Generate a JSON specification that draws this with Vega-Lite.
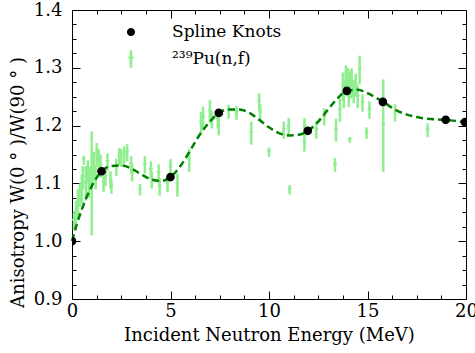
{
  "$schema": "https://vega.github.io/schema/vega-lite/v6.json",
  "width": 394,
  "height": 289,
  "autosize": {"type": "none"},
  "padding": {"left": 72, "top": 10, "right": 9, "bottom": 54},
  "background": "white",
  "config": {
    "view": {"stroke": null},
    "font": "DejaVu Serif",
    "axis": {
      "grid": false,
      "labelFont": "DejaVu Serif",
      "labelFontSize": 18,
      "labelColor": "black",
      "titleFont": "DejaVu Serif",
      "titleFontSize": 18,
      "titleFontWeight": "normal",
      "titleColor": "black",
      "domainColor": "black",
      "tickColor": "black",
      "tickWidth": 1,
      "domainWidth": 1
    }
  },
  "datasets": {
    "pts": [
      {"E": 0.1, "A": 1.035, "lo": 1.02, "hi": 1.05},
      {"E": 0.2, "A": 1.05, "lo": 1.03, "hi": 1.07},
      {"E": 0.3, "A": 1.065, "lo": 1.04, "hi": 1.09},
      {"E": 0.4, "A": 1.08, "lo": 1.06, "hi": 1.10},
      {"E": 0.5, "A": 1.09, "lo": 1.065, "hi": 1.115},
      {"E": 0.55, "A": 1.11, "lo": 1.09, "hi": 1.13},
      {"E": 0.6, "A": 1.14, "lo": 1.132, "hi": 1.148},
      {"E": 0.7, "A": 1.10, "lo": 1.07, "hi": 1.13},
      {"E": 0.8, "A": 1.12, "lo": 1.10, "hi": 1.14},
      {"E": 0.85, "A": 1.10, "lo": 1.075, "hi": 1.125},
      {"E": 0.95, "A": 1.11, "lo": 1.09, "hi": 1.13},
      {"E": 1.0, "A": 1.10, "lo": 1.01, "hi": 1.19},
      {"E": 1.1, "A": 1.13, "lo": 1.105, "hi": 1.155},
      {"E": 1.2, "A": 1.11, "lo": 1.09, "hi": 1.13},
      {"E": 1.25, "A": 1.15, "lo": 1.13, "hi": 1.17},
      {"E": 1.35, "A": 1.14, "lo": 1.12, "hi": 1.16},
      {"E": 1.45, "A": 1.13, "lo": 1.11, "hi": 1.15},
      {"E": 1.6, "A": 1.10, "lo": 1.085, "hi": 1.115},
      {"E": 1.7, "A": 1.11, "lo": 1.095, "hi": 1.125},
      {"E": 1.8, "A": 1.137, "lo": 1.122, "hi": 1.152},
      {"E": 1.95, "A": 1.106, "lo": 1.091, "hi": 1.121},
      {"E": 2.0, "A": 1.094, "lo": 1.082, "hi": 1.106},
      {"E": 2.25, "A": 1.128, "lo": 1.113, "hi": 1.143},
      {"E": 2.4, "A": 1.146, "lo": 1.131, "hi": 1.161},
      {"E": 2.5, "A": 1.144, "lo": 1.129, "hi": 1.159},
      {"E": 2.65, "A": 1.149, "lo": 1.134, "hi": 1.164},
      {"E": 2.8, "A": 1.153, "lo": 1.138, "hi": 1.168},
      {"E": 3.0, "A": 1.132, "lo": 1.117, "hi": 1.147},
      {"E": 3.05, "A": 1.118, "lo": 1.103, "hi": 1.133},
      {"E": 3.45, "A": 1.089, "lo": 1.079, "hi": 1.099},
      {"E": 3.7, "A": 1.132, "lo": 1.117, "hi": 1.147},
      {"E": 4.0, "A": 1.123, "lo": 1.108, "hi": 1.138},
      {"E": 4.05, "A": 1.106, "lo": 1.091, "hi": 1.121},
      {"E": 4.4, "A": 1.118, "lo": 1.103, "hi": 1.133},
      {"E": 4.45, "A": 1.094, "lo": 1.079, "hi": 1.109},
      {"E": 4.85, "A": 1.10, "lo": 1.085, "hi": 1.115},
      {"E": 5.0, "A": 1.127, "lo": 1.112, "hi": 1.142},
      {"E": 5.35, "A": 1.097, "lo": 1.077, "hi": 1.117},
      {"E": 5.95, "A": 1.14, "lo": 1.12, "hi": 1.16},
      {"E": 6.55, "A": 1.204, "lo": 1.184, "hi": 1.224},
      {"E": 6.65, "A": 1.213, "lo": 1.193, "hi": 1.233},
      {"E": 7.0, "A": 1.224, "lo": 1.204, "hi": 1.244},
      {"E": 7.1, "A": 1.21, "lo": 1.195, "hi": 1.225},
      {"E": 7.4, "A": 1.21, "lo": 1.195, "hi": 1.225},
      {"E": 7.45, "A": 1.198, "lo": 1.183, "hi": 1.213},
      {"E": 7.95, "A": 1.224, "lo": 1.212, "hi": 1.236},
      {"E": 8.35, "A": 1.222, "lo": 1.21, "hi": 1.234},
      {"E": 9.1, "A": 1.187, "lo": 1.167, "hi": 1.207},
      {"E": 9.5, "A": 1.241, "lo": 1.226, "hi": 1.256},
      {"E": 9.55, "A": 1.222, "lo": 1.207, "hi": 1.237},
      {"E": 10.0, "A": 1.154, "lo": 1.146, "hi": 1.162},
      {"E": 10.75, "A": 1.192, "lo": 1.177, "hi": 1.207},
      {"E": 11.0, "A": 1.198, "lo": 1.183, "hi": 1.213},
      {"E": 11.05, "A": 1.089, "lo": 1.081, "hi": 1.097},
      {"E": 11.8, "A": 1.198, "lo": 1.183, "hi": 1.213},
      {"E": 11.8, "A": 1.17, "lo": 1.155, "hi": 1.185},
      {"E": 12.4, "A": 1.192, "lo": 1.177, "hi": 1.207},
      {"E": 12.8, "A": 1.215, "lo": 1.2, "hi": 1.23},
      {"E": 13.35, "A": 1.132, "lo": 1.12, "hi": 1.144},
      {"E": 13.4, "A": 1.192, "lo": 1.172, "hi": 1.212},
      {"E": 13.6, "A": 1.227, "lo": 1.207, "hi": 1.247},
      {"E": 13.75, "A": 1.267, "lo": 1.242, "hi": 1.292},
      {"E": 13.8, "A": 1.255, "lo": 1.23, "hi": 1.28},
      {"E": 13.9, "A": 1.284, "lo": 1.264, "hi": 1.304},
      {"E": 14.0, "A": 1.275, "lo": 1.25, "hi": 1.30},
      {"E": 14.05, "A": 1.262, "lo": 1.232, "hi": 1.292},
      {"E": 14.1, "A": 1.175, "lo": 1.17, "hi": 1.18},
      {"E": 14.15, "A": 1.272, "lo": 1.247, "hi": 1.297},
      {"E": 14.2, "A": 1.274, "lo": 1.249, "hi": 1.299},
      {"E": 14.3, "A": 1.259, "lo": 1.239, "hi": 1.279},
      {"E": 14.4, "A": 1.27, "lo": 1.25, "hi": 1.29},
      {"E": 14.5, "A": 1.25, "lo": 1.23, "hi": 1.27},
      {"E": 14.6, "A": 1.296, "lo": 1.271, "hi": 1.321},
      {"E": 14.75, "A": 1.239, "lo": 1.224, "hi": 1.254},
      {"E": 14.95, "A": 1.187, "lo": 1.177, "hi": 1.197},
      {"E": 15.1, "A": 1.227, "lo": 1.212, "hi": 1.242},
      {"E": 15.8, "A": 1.20, "lo": 1.12, "hi": 1.28},
      {"E": 16.4, "A": 1.222, "lo": 1.207, "hi": 1.237},
      {"E": 18.05, "A": 1.192, "lo": 1.18, "hi": 1.204}
    ],
    "curve": [
      {"E": 0, "A": 1.0},
      {"E": 0.25, "A": 1.03},
      {"E": 0.5, "A": 1.055},
      {"E": 0.75, "A": 1.077},
      {"E": 1.0, "A": 1.095},
      {"E": 1.5, "A": 1.121},
      {"E": 2.0, "A": 1.13},
      {"E": 2.5, "A": 1.131},
      {"E": 3.0, "A": 1.126},
      {"E": 3.5, "A": 1.116},
      {"E": 4.0, "A": 1.107},
      {"E": 4.5, "A": 1.104},
      {"E": 5.0, "A": 1.111},
      {"E": 5.5, "A": 1.13},
      {"E": 6.0, "A": 1.157},
      {"E": 6.5, "A": 1.185},
      {"E": 7.0, "A": 1.207},
      {"E": 7.45, "A": 1.222},
      {"E": 8.0, "A": 1.228},
      {"E": 8.5, "A": 1.228},
      {"E": 9.0, "A": 1.222},
      {"E": 9.5, "A": 1.21},
      {"E": 10.0, "A": 1.197},
      {"E": 10.5, "A": 1.187},
      {"E": 11.0, "A": 1.183},
      {"E": 11.5, "A": 1.184},
      {"E": 11.97, "A": 1.191},
      {"E": 12.5, "A": 1.207},
      {"E": 13.0, "A": 1.228},
      {"E": 13.5, "A": 1.248},
      {"E": 13.95, "A": 1.26},
      {"E": 14.5, "A": 1.262},
      {"E": 15.0, "A": 1.256},
      {"E": 15.78, "A": 1.241},
      {"E": 16.5, "A": 1.226},
      {"E": 17.0, "A": 1.219},
      {"E": 17.5, "A": 1.215},
      {"E": 18.0, "A": 1.212},
      {"E": 18.97, "A": 1.21},
      {"E": 19.5, "A": 1.208},
      {"E": 20.0, "A": 1.205}
    ],
    "knots": [
      {"E": 0, "A": 1.0, "series": "Spline Knots"},
      {"E": 1.5, "A": 1.121, "series": "Spline Knots"},
      {"E": 5.0, "A": 1.111, "series": "Spline Knots"},
      {"E": 7.45, "A": 1.222, "series": "Spline Knots"},
      {"E": 11.97, "A": 1.191, "series": "Spline Knots"},
      {"E": 13.95, "A": 1.26, "series": "Spline Knots"},
      {"E": 15.78, "A": 1.241, "series": "Spline Knots"},
      {"E": 18.97, "A": 1.21, "series": "Spline Knots"},
      {"E": 19.95, "A": 1.206, "series": "Spline Knots"}
    ]
  },
  "layer": [
    {
      "data": {"name": "pts"},
      "mark": {"type": "rule", "color": "#90ee90", "strokeWidth": 2.5},
      "encoding": {
        "x": {"field": "E", "type": "quantitative", "scale": {"domain": [0, 20], "nice": false},
          "axis": {"orient": "bottom", "values": [0, 5, 10, 15, 20], "format": "d", "tickSize": -8, "labelPadding": 11, "labelFlush": false, "title": "Incident Neutron Energy (MeV)", "titlePadding": 6}},
        "y": {"field": "lo", "type": "quantitative", "scale": {"domain": [0.9, 1.4], "nice": false, "zero": false},
          "axis": {"orient": "left", "values": [0.9, 1.0, 1.1, 1.2, 1.3, 1.4], "format": ".1f", "tickSize": -8, "labelPadding": 18, "title": "Anisotropy W(0 ° )/W(90 ° )", "titlePadding": 6, "titleY": 172}},
        "y2": {"field": "hi"}
      }
    },
    {
      "data": {"name": "pts"},
      "mark": {"type": "point", "shape": "triangle-down", "filled": true, "size": 22, "color": "#90ee90", "opacity": 1},
      "encoding": {
        "x": {"field": "E", "type": "quantitative",
          "axis": {"orient": "top", "values": [0, 5, 10, 15, 20], "labels": false, "tickSize": -8, "title": null}},
        "y": {"field": "A", "type": "quantitative",
          "axis": {"orient": "right", "values": [0.9, 1.0, 1.1, 1.2, 1.3, 1.4], "labels": false, "tickSize": -8, "title": null}}
      }
    },
    {
      "data": {"name": "curve"},
      "mark": {"type": "line", "color": "#008000", "strokeWidth": 2.5, "strokeDash": [7, 4], "interpolate": "monotone"},
      "encoding": {
        "x": {"field": "E", "type": "quantitative",
          "axis": {"orient": "bottom", "values": [1.25, 2.5, 3.75, 6.25, 7.5, 8.75, 11.25, 12.5, 13.75, 16.25, 17.5, 18.75], "labels": false, "domain": false, "tickSize": -4, "title": null}},
        "y": {"field": "A", "type": "quantitative",
          "axis": {"orient": "left", "values": [0.925, 0.95, 0.975, 1.025, 1.05, 1.075, 1.125, 1.15, 1.175, 1.225, 1.25, 1.275, 1.325, 1.35, 1.375], "labels": false, "domain": false, "tickSize": -4, "title": null}}
      }
    },
    {
      "data": {"name": "knots"},
      "mark": {"type": "point", "filled": true, "size": 340, "opacity": 1, "strokeWidth": 0, "clip": true},
      "encoding": {
        "x": {"field": "E", "type": "quantitative",
          "axis": {"orient": "top", "values": [1.25, 2.5, 3.75, 6.25, 7.5, 8.75, 11.25, 12.5, 13.75, 16.25, 17.5, 18.75], "labels": false, "domain": false, "tickSize": -4, "title": null}},
        "y": {"field": "A", "type": "quantitative",
          "axis": {"orient": "right", "values": [0.925, 0.95, 0.975, 1.025, 1.05, 1.075, 1.125, 1.15, 1.175, 1.225, 1.25, 1.275, 1.325, 1.35, 1.375], "labels": false, "domain": false, "tickSize": -4, "title": null}},
        "color": {"field": "series", "type": "nominal",
          "scale": {"domain": ["Spline Knots", "²³⁹Pu(n,f)"], "range": ["black", "#90ee90"]},
          "legend": {"orient": "none", "legendX": 50, "legendY": 13, "title": null, "symbolSize": 300, "symbolStrokeWidth": 0, "labelFont": "DejaVu Serif", "labelFontSize": 17, "labelColor": "black", "labelOffset": 32, "rowPadding": 10}},
        "shape": {"field": "series", "type": "nominal",
          "scale": {"domain": ["Spline Knots", "²³⁹Pu(n,f)"], "range": ["M-0.47,0A0.47,0.47,0,1,1,0.47,0A0.47,0.47,0,1,1,-0.47,0Z", "M-0.15,-1H0.15V1H-0.15Z M-0.38,-0.25H0.38L0,0.35Z"]},
          "legend": {"orient": "none", "legendX": 50, "legendY": 13, "title": null, "symbolSize": 300, "symbolStrokeWidth": 0, "labelFont": "DejaVu Serif", "labelFontSize": 17, "labelColor": "black", "labelOffset": 32, "rowPadding": 10}}
      }
    }
  ],
  "resolve": {"axis": {"x": "independent", "y": "independent"}}
}
